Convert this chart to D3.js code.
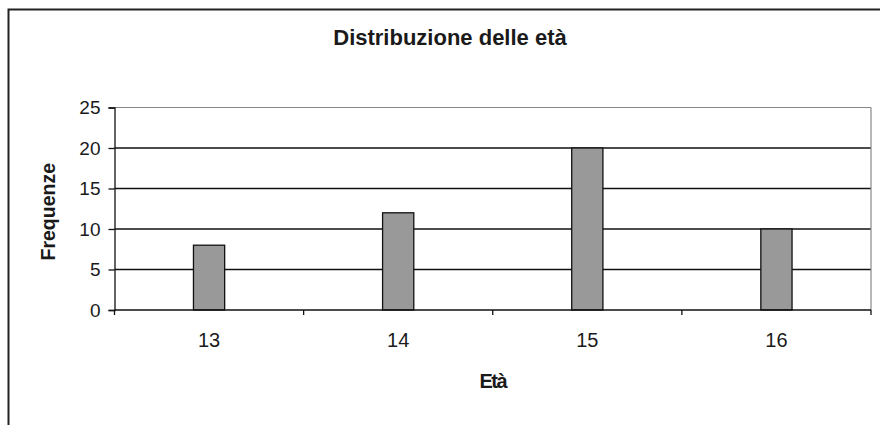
<!DOCTYPE html>
<html>
<head>
<meta charset="utf-8">
<script src="https://cdn.jsdelivr.net/npm/d3@7"></script>
<style>
  html, body { margin: 0; padding: 0; background: #fff; }
  svg { display: block; font-family: "Liberation Sans", Arial, sans-serif; }
</style>
</head>
<body>
<svg id="chart" width="880" height="425"></svg>
<script>
const categories = ["13", "14", "15", "16"];
const values = [8, 12, 20, 10];
const yTicks = [0, 5, 10, 15, 20, 25];
const title = "Distribuzione delle età";
const xTitle = "Età";
const yTitle = "Frequenze";

(function () {
const svg = d3.select("#chart");
const pLeft = 114.5, pRight = 871, pTop = 107.5, pBottom = 310;

// outer chart border (extends beyond right & bottom edge)
svg.append("rect")
  .attr("x", 8.5).attr("y", 9.5)
  .attr("width", 900).attr("height", 450)
  .attr("fill", "#fff").attr("stroke", "#222").attr("stroke-width", 2);

const x = d3.scaleBand().domain(categories).range([pLeft, pRight]).padding(0);
const y = d3.scaleLinear().domain([0, 25]).range([pBottom, pTop]);

// gridlines
svg.append("g").selectAll("line")
  .data(yTicks.filter(t => t > 0 && t < 25))
  .join("line")
  .attr("x1", pLeft).attr("x2", pRight)
  .attr("y1", d => y(d)).attr("y2", d => y(d))
  .attr("stroke", "#111").attr("stroke-width", 1.3);

// plot area border (top & right) gray
svg.append("line")
  .attr("x1", pLeft).attr("x2", pRight).attr("y1", y(25)).attr("y2", y(25))
  .attr("stroke", "#888").attr("stroke-width", 1.2);
svg.append("line")
  .attr("x1", pRight).attr("x2", pRight).attr("y1", y(25)).attr("y2", y(0))
  .attr("stroke", "#888").attr("stroke-width", 1.2);

// bars
const bw = x.bandwidth() * 0.165;
svg.append("g").selectAll("rect")
  .data(values)
  .join("rect")
  .attr("x", (d, i) => x(categories[i]) + x.bandwidth() / 2 - bw / 2)
  .attr("y", d => y(d))
  .attr("width", bw)
  .attr("height", d => y(0) - y(d))
  .attr("fill", "#999")
  .attr("stroke", "#111")
  .attr("stroke-width", 1.3);

// y axis
const yAxis = d3.axisLeft(y).tickValues(yTicks).tickSize(6).tickPadding(8);
const gy = svg.append("g").attr("transform", `translate(${pLeft},0)`).call(yAxis);
gy.select(".domain").attr("stroke", "#111").attr("stroke-width", 1.3);
gy.selectAll(".tick line").attr("stroke", "#111").attr("stroke-width", 1.3);
gy.selectAll(".tick text")
  .attr("font-size", 19).attr("fill", "#1a1a1a")
  .attr("font-family", "'Liberation Sans', Arial, sans-serif");

// x axis
const xAxis = d3.axisBottom(x).tickSize(0).tickPadding(23);
const gx = svg.append("g").attr("transform", `translate(0,${pBottom})`).call(xAxis);
gx.select(".domain").attr("stroke", "#111").attr("stroke-width", 1.3)
  .attr("d", `M${pLeft},0H${pRight}`);
gx.selectAll(".tick text")
  .attr("font-size", 20).attr("fill", "#1a1a1a")
  .attr("font-family", "'Liberation Sans', Arial, sans-serif");
// boundary tick marks between categories
const boundaries = categories.map(c => x(c)).concat([pRight]);
gx.append("g").selectAll("line")
  .data(boundaries)
  .join("line")
  .attr("x1", d => d).attr("x2", d => d)
  .attr("y1", 0).attr("y2", 5)
  .attr("stroke", "#111").attr("stroke-width", 1.3);

// titles
svg.append("text")
  .attr("x", 450).attr("y", 45)
  .attr("text-anchor", "middle")
  .attr("font-size", 22).attr("font-weight", "bold").attr("fill", "#1a1a1a")
  .text(title);

svg.append("text")
  .attr("x", (pLeft + pRight) / 2).attr("y", 388)
  .attr("text-anchor", "middle")
  .attr("font-size", 20).attr("font-weight", "bold").attr("fill", "#1a1a1a")
  .attr("letter-spacing", -1.5)
  .text(xTitle);

svg.append("text")
  .attr("transform", `translate(55,${(pTop + pBottom) / 2 + 3}) rotate(-90)`)
  .attr("text-anchor", "middle")
  .attr("font-size", 19.5).attr("font-weight", "bold").attr("fill", "#1a1a1a")
  .text(yTitle);
})();
</script>
</body>
</html>
